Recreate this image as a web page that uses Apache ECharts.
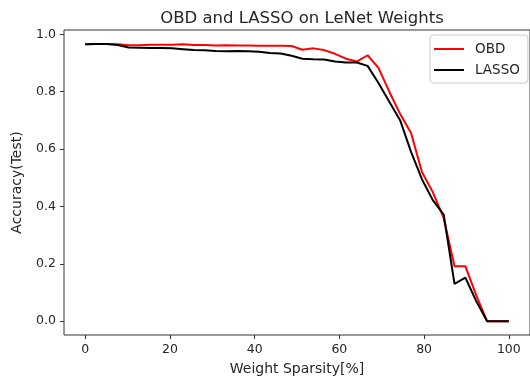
<!DOCTYPE html>
<html>
<head>
<meta charset="utf-8">
<script src="https://cdn.jsdelivr.net/npm/echarts@6/dist/echarts.min.js"></script>
<style>
  html, body { margin: 0; padding: 0; background: #fff; }
  #chart { width: 530px; height: 381px; }
</style>
</head>
<body>
<div id="chart"></div>
<script>
// sparsity levels (%)
const sparsity = [0, 2.56, 5.13, 7.69, 10.26, 12.82, 15.38, 17.95, 20.51, 23.08,
  25.64, 28.21, 30.77, 33.33, 35.9, 38.46, 41.03, 43.59, 46.15, 48.72,
  51.28, 53.85, 56.41, 58.97, 61.54, 64.1, 66.67, 69.23, 71.79, 74.36,
  76.92, 79.49, 82.05, 84.62, 87.18, 89.74, 92.31, 94.87, 97.44, 100];

const obdAcc = [0.965, 0.966, 0.966, 0.965, 0.962, 0.962, 0.964, 0.964, 0.964, 0.965,
  0.963, 0.963, 0.961, 0.962, 0.961, 0.961, 0.960, 0.960, 0.960, 0.959,
  0.946, 0.951, 0.945, 0.932, 0.915, 0.905, 0.927, 0.883, 0.800, 0.722,
  0.656, 0.520, 0.450, 0.360, 0.192, 0.192, 0.090, 0.000, 0.000, 0.000];

const lassoAcc = [0.965, 0.966, 0.966, 0.963, 0.954, 0.953, 0.952, 0.952, 0.951, 0.948,
  0.945, 0.944, 0.942, 0.941, 0.942, 0.941, 0.939, 0.935, 0.933, 0.925,
  0.915, 0.913, 0.912, 0.905, 0.902, 0.902, 0.890, 0.830, 0.765, 0.700,
  0.590, 0.495, 0.422, 0.372, 0.130, 0.152, 0.070, 0.000, 0.000, 0.000];

const xTicks = [0, 20, 40, 60, 80, 100];
const yTicks = [0, 0.2, 0.4, 0.6, 0.8, 1.0];

const font = "'DejaVu Sans', sans-serif";
const textColor = "#262626";
// plain line swatch for the legend (tiny dots keep the box 30x14)
const lineIcon = "path://M0,0L0.01,0L0.01,0.01ZM0,6L30,6L30,8L0,8ZM29.99,14L30,14L30,13.99Z";

function toPairs(xs, ys) {
  return xs.map((x, i) => [x, ys[i]]);
}

const myChart = echarts.init(document.getElementById("chart"), null, { renderer: "canvas" });

myChart.setOption({
  animation: false,
  backgroundColor: "#fff",
  title: {
    text: "OBD and LASSO on LeNet Weights",
    left: 297,
    top: 5,
    textAlign: "center",
    textStyle: { fontFamily: font, fontSize: 16.5, fontWeight: "normal", color: textColor },
  },
  grid: {
    left: 64,
    top: 30,
    width: 468,
    height: 305,
    show: true,
    borderColor: "#333",
    borderWidth: 1,
    backgroundColor: "transparent",
  },
  legend: {
    data: [
      { name: "OBD", icon: lineIcon },
      { name: "LASSO", icon: lineIcon },
    ],
    orient: "vertical",
    left: 430,
    top: 35,
    padding: [7, 8, 6, 4],
    itemWidth: 30,
    itemHeight: 14,
    itemGap: 7,
    borderColor: "#ccc",
    borderWidth: 1,
    borderRadius: 3,
    backgroundColor: "rgba(255,255,255,0.8)",
    itemStyle: { borderWidth: 0 },
    textStyle: { fontFamily: font, fontSize: 13.5, color: textColor, padding: [0, 0, 0, 6] },
  },
  xAxis: {
    type: "value",
    min: -5,
    max: 105,
    name: "Weight Sparsity[%]",
    nameLocation: "middle",
    nameGap: 27,
    nameTextStyle: { fontFamily: font, fontSize: 14, color: textColor },
    axisLine: { show: false, onZero: false },
    axisTick: { show: true, inside: false, length: 4, customValues: xTicks, lineStyle: { color: "#333" } },
    axisLabel: { customValues: xTicks, margin: 8, fontFamily: font, fontSize: 12.5, color: textColor },
    splitLine: { show: false },
  },
  yAxis: {
    type: "value",
    min: -0.048,
    max: 1.015,
    name: "Accuracy(Test)",
    nameLocation: "middle",
    nameGap: 40,
    nameTextStyle: { fontFamily: font, fontSize: 14, color: textColor },
    axisLine: { show: false, onZero: false },
    axisTick: { show: true, inside: false, length: 4, customValues: yTicks, lineStyle: { color: "#333" } },
    axisLabel: {
      customValues: yTicks,
      margin: 8,
      fontFamily: font,
      fontSize: 12.5,
      color: textColor,
      formatter: (v) => v.toFixed(1),
    },
    splitLine: { show: false },
  },
  series: [
    {
      name: "OBD",
      type: "line",
      data: toPairs(sparsity, obdAcc),
      symbol: "none",
      color: "#ff0000",
      lineStyle: { color: "#ff0000", width: 2 },
    },
    {
      name: "LASSO",
      type: "line",
      data: toPairs(sparsity, lassoAcc),
      symbol: "none",
      color: "#000000",
      lineStyle: { color: "#000000", width: 2 },
    },
  ],
});
</script>
</body>
</html>
